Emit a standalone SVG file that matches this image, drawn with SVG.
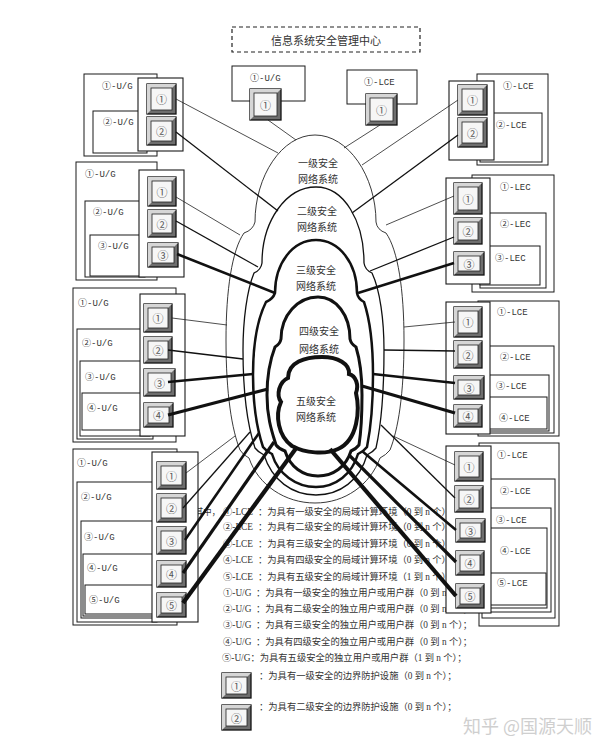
<svg xmlns="http://www.w3.org/2000/svg" width="616" height="753" viewBox="0 0 616 753">
<style>
.bg{fill:#fff}
.bx{fill:#fff;stroke:#1a1a1a;stroke-width:1}
.pn{fill:#fff;stroke:#1a1a1a;stroke-width:1.1}
.dash{fill:#fff;stroke:#222;stroke-width:1.2;stroke-dasharray:4 3}
.bo{fill:#6e6e6e;stroke:#111;stroke-width:1.3}
.bl{fill:#d6d6d6}
.bi{fill:#f6f6f6;stroke:#222;stroke-width:0.8}
.bt{font-family:"Noto Sans CJK SC",sans-serif;font-size:11px;fill:#555;text-anchor:middle;dominant-baseline:central}
.lb{font-family:"Liberation Mono","Noto Sans CJK SC",monospace;font-size:9px;fill:#333;dominant-baseline:central}
.ct{font-family:"Noto Sans CJK SC",sans-serif;font-size:10px;fill:#333;text-anchor:middle;dominant-baseline:central}
.tt{font-family:"Noto Sans CJK SC",sans-serif;font-size:11px;fill:#333;text-anchor:middle;dominant-baseline:central}
.lg{font-family:"Liberation Serif","Noto Sans CJK SC",serif;font-size:9.3px;fill:#333;dominant-baseline:central}
.wm{font-family:"Noto Sans CJK SC",sans-serif;font-size:18px;fill:#cfcfcf}
.c1{fill:none;stroke:#222;stroke-width:0.9}
.c2{fill:none;stroke:#111;stroke-width:1.3}
.c3{fill:none;stroke:#111;stroke-width:2.5}
.c4{fill:none;stroke:#111;stroke-width:3}
.c5{fill:none;stroke:#111;stroke-width:4}
.k1{stroke:#222;stroke-width:0.8;fill:none}
.k2{stroke:#111;stroke-width:1.3;fill:none}
.k3{stroke:#111;stroke-width:2.6;fill:none}
.k4{stroke:#111;stroke-width:3.2;fill:none}
.k5{stroke:#111;stroke-width:4.2;fill:none}
</style>
<rect class="bg" x="0" y="0" width="616" height="753"/>

<g id="legend">
<text class="lg" x="195" y="512" textLength="25" lengthAdjust="spacingAndGlyphs">其中，</text>
<text class="lg" y="512"><tspan x="223">①-LCE</tspan><tspan x="258">：为具有一级安全的局域计算环境（0 到 n 个）；</tspan></text>
<text class="lg" y="527"><tspan x="223">②-LCE</tspan><tspan x="258">：为具有二级安全的局域计算环境（0 到 n 个）；</tspan></text>
<text class="lg" y="544"><tspan x="223">③-LCE</tspan><tspan x="258">：为具有三级安全的局域计算环境（0 到 n 个）；</tspan></text>
<text class="lg" y="560"><tspan x="223">④-LCE</tspan><tspan x="258">：为具有四级安全的局域计算环境（0 到 n 个）；</tspan></text>
<text class="lg" y="577"><tspan x="223">⑤-LCE</tspan><tspan x="258">：为具有五级安全的局域计算环境（1 到 n 个）；</tspan></text>
<text class="lg" y="593"><tspan x="223">①-U/G</tspan><tspan x="256">：为具有一级安全的独立用户或用户群（0 到 n 个）；</tspan></text>
<text class="lg" y="609"><tspan x="223">②-U/G</tspan><tspan x="256">：为具有二级安全的独立用户或用户群（0 到 n 个）；</tspan></text>
<text class="lg" y="625"><tspan x="223">③-U/G</tspan><tspan x="256">：为具有三级安全的独立用户或用户群（0 到 n 个）；</tspan></text>
<text class="lg" y="642"><tspan x="223">④-U/G</tspan><tspan x="256">：为具有四级安全的独立用户或用户群（0 到 n 个）；</tspan></text>
<text class="lg" x="222" y="658">⑤-U/G：为具有五级安全的独立用户或用户群（1 到 n 个）；</text>
<g id="legend-btn1">
<rect class="bo" x="222" y="673" width="29" height="25"/><polygon class="bl" points="222,673 251,673 247,677 226,677 226,694 222,698"/><rect class="bi" x="226" y="677" width="21" height="17"/><text class="bt" x="236.5" y="685.5">①</text>
</g>
<text class="lg" x="259" y="676">：为具有一级安全的边界防护设施（0 到 n 个）；</text>
<g id="legend-btn2">
<rect class="bo" x="222" y="705" width="29" height="25"/><polygon class="bl" points="222,705 251,705 247,709 226,709 226,726 222,730"/><rect class="bi" x="226" y="709" width="21" height="17"/><text class="bt" x="236.5" y="717.5">②</text>
</g>
<text class="lg" x="259" y="707">：为具有二级安全的边界防护设施（0 到 n 个）；</text>
<text class="wm" x="463" y="733">知乎 @国源天顺</text>
</g>

<g id="center">
<rect class="dash" x="232" y="27" width="188" height="25"/>
<text class="tt" x="326" y="40">信息系统安全管理中心</text>
</g>

<g id="top-ug1">
<rect class="bx" x="232" y="66" width="73" height="35"/>
<text class="lb" x="250" y="79">①-U/G</text>
<rect class="bo" x="250" y="89" width="31" height="31"/><polygon class="bl" points="250,89 281,89 277,93 254,93 254,116 250,120"/><rect class="bi" x="254" y="93" width="23" height="23"/><text class="bt" x="265.5" y="104.5">①</text>
</g>

<g id="top-lce1">
<rect class="bx" x="347" y="70" width="70" height="34"/>
<text class="lb" x="364" y="83">①-LCE</text>
<rect class="bo" x="366" y="94" width="31" height="31"/><polygon class="bl" points="366,94 397,94 393,98 370,98 370,121 366,125"/><rect class="bi" x="370" y="98" width="23" height="23"/><text class="bt" x="381.5" y="109.5">①</text>
</g>

<g id="left-1">
<rect class="bx" x="84" y="74" width="73" height="82"/>
<rect class="bx" x="93" y="111" width="54" height="42"/>
<text class="lb" x="102" y="87">①-U/G</text>
<text class="lb" x="103" y="123">②-U/G</text>
<rect class="pn" x="138" y="78" width="45" height="73"/>
<rect class="bo" x="147" y="84" width="29" height="30"/><polygon class="bl" points="147,84 176,84 172,88 151,88 151,110 147,114"/><rect class="bi" x="151" y="88" width="21" height="22"/><text class="bt" x="161.5" y="99">①</text>
<rect class="bo" x="147" y="117" width="29" height="28"/><polygon class="bl" points="147,117 176,117 172,121 151,121 151,141 147,145"/><rect class="bi" x="151" y="121" width="21" height="20"/><text class="bt" x="161.5" y="131">②</text>
</g>

<g id="left-2">
<rect class="bx" x="76" y="162" width="81" height="118"/>
<rect class="bx" x="85" y="201" width="60" height="76"/>
<rect class="bx" x="90" y="235" width="55" height="41"/>
<text class="lb" x="85" y="175">①-U/G</text>
<text class="lb" x="93" y="213">②-U/G</text>
<text class="lb" x="98" y="247">③-U/G</text>
<rect class="pn" x="139" y="170" width="45" height="107"/>
<rect class="bo" x="148" y="177" width="28" height="29"/><polygon class="bl" points="148,177 176,177 172,181 152,181 152,202 148,206"/><rect class="bi" x="152" y="181" width="20" height="21"/><text class="bt" x="162" y="191.5">①</text>
<rect class="bo" x="148" y="210" width="28" height="27"/><polygon class="bl" points="148,210 176,210 172,214 152,214 152,233 148,237"/><rect class="bi" x="152" y="214" width="20" height="19"/><text class="bt" x="162" y="223.5">②</text>
<rect class="bo" x="148" y="243" width="30" height="24"/><polygon class="bl" points="148,243 178,243 174,247 152,247 152,263 148,267"/><rect class="bi" x="152" y="247" width="22" height="16"/><text class="bt" x="163" y="255">③</text>
</g>

<g id="left-3">
<rect class="bx" x="73" y="288" width="103" height="154"/>
<rect class="bx" x="77" y="329" width="76" height="110"/>
<rect class="bx" x="80" y="361" width="70" height="75"/>
<rect class="bx" x="82" y="393" width="60" height="37"/>
<text class="lb" x="78" y="304">①-U/G</text>
<text class="lb" x="82" y="344">②-U/G</text>
<text class="lb" x="85" y="378">③-U/G</text>
<text class="lb" x="87" y="409">④-U/G</text>
<rect class="pn" x="140" y="294" width="45" height="142"/>
<rect class="bo" x="144" y="304" width="28" height="28"/><polygon class="bl" points="144,304 172,304 168,308 148,308 148,328 144,332"/><rect class="bi" x="148" y="308" width="20" height="20"/><text class="bt" x="158" y="318">①</text>
<rect class="bo" x="144" y="337" width="28" height="26"/><polygon class="bl" points="144,337 172,337 168,341 148,341 148,359 144,363"/><rect class="bi" x="148" y="341" width="20" height="18"/><text class="bt" x="158" y="350">②</text>
<rect class="bo" x="144" y="369" width="31" height="27"/><polygon class="bl" points="144,369 175,369 171,373 148,373 148,392 144,396"/><rect class="bi" x="148" y="373" width="23" height="19"/><text class="bt" x="159.5" y="382.5">③</text>
<rect class="bo" x="144" y="403" width="29" height="24"/><polygon class="bl" points="144,403 173,403 169,407 148,407 148,423 144,427"/><rect class="bi" x="148" y="407" width="21" height="16"/><text class="bt" x="158.5" y="415">④</text>
</g>

<g id="left-4">
<rect class="bx" x="73" y="449" width="104" height="176"/>
<rect class="bx" x="77" y="482" width="80" height="140"/>
<rect class="bx" x="81" y="521" width="72" height="97"/>
<rect class="bx" x="83" y="554" width="70" height="62"/>
<rect class="bx" x="85" y="585" width="68" height="29"/>
<text class="lb" x="77" y="464">①-U/G</text>
<text class="lb" x="81" y="498">②-U/G</text>
<text class="lb" x="84" y="538">③-U/G</text>
<text class="lb" x="87" y="569">④-U/G</text>
<text class="lb" x="89" y="601">⑤-U/G</text>
<rect class="pn" x="152" y="452" width="46" height="170"/>
<rect class="bo" x="157" y="462" width="29" height="27"/><polygon class="bl" points="157,462 186,462 182,466 161,466 161,485 157,489"/><rect class="bi" x="161" y="466" width="21" height="19"/><text class="bt" x="171.5" y="475.5">①</text>
<rect class="bo" x="157" y="494" width="29" height="28"/><polygon class="bl" points="157,494 186,494 182,498 161,498 161,518 157,522"/><rect class="bi" x="161" y="498" width="21" height="20"/><text class="bt" x="171.5" y="508">②</text>
<rect class="bo" x="157" y="527" width="29" height="27"/><polygon class="bl" points="157,527 186,527 182,531 161,531 161,550 157,554"/><rect class="bi" x="161" y="531" width="21" height="19"/><text class="bt" x="171.5" y="540.5">③</text>
<rect class="bo" x="157" y="561" width="29" height="26"/><polygon class="bl" points="157,561 186,561 182,565 161,565 161,583 157,587"/><rect class="bi" x="161" y="565" width="21" height="18"/><text class="bt" x="171.5" y="574">④</text>
<rect class="bo" x="157" y="593" width="29" height="24"/><polygon class="bl" points="157,593 186,593 182,597 161,597 161,613 157,617"/><rect class="bi" x="161" y="597" width="21" height="16"/><text class="bt" x="171.5" y="605">⑤</text>
</g>

<g id="right-1">
<rect class="bx" x="477" y="74" width="71" height="91"/>
<rect class="bx" x="480" y="113" width="62" height="49"/>
<text class="lb" x="503" y="87">①-LCE</text>
<text class="lb" x="496" y="126">②-LCE</text>
<rect class="pn" x="449" y="81" width="45" height="79"/>
<rect class="bo" x="458" y="85" width="29" height="30"/><polygon class="bl" points="458,85 487,85 483,89 462,89 462,111 458,115"/><rect class="bi" x="462" y="89" width="21" height="22"/><text class="bt" x="472.5" y="100">①</text>
<rect class="bo" x="458" y="118" width="29" height="29"/><polygon class="bl" points="458,118 487,118 483,122 462,122 462,143 458,147"/><rect class="bi" x="462" y="122" width="21" height="21"/><text class="bt" x="472.5" y="132.5">②</text>
</g>

<g id="right-2">
<rect class="bx" x="472" y="175" width="82" height="117"/>
<rect class="bx" x="480" y="213" width="66" height="75"/>
<rect class="bx" x="480" y="246" width="60" height="39"/>
<text class="lb" x="500" y="188">①-LEC</text>
<text class="lb" x="500" y="225">②-LEC</text>
<text class="lb" x="495" y="259">③-LEC</text>
<rect class="pn" x="446" y="178" width="44" height="106"/>
<rect class="bo" x="454" y="183" width="28" height="31"/><polygon class="bl" points="454,183 482,183 478,187 458,187 458,210 454,214"/><rect class="bi" x="458" y="187" width="20" height="23"/><text class="bt" x="468" y="198.5">①</text>
<rect class="bo" x="454" y="218" width="28" height="26"/><polygon class="bl" points="454,218 482,218 478,222 458,222 458,240 454,244"/><rect class="bi" x="458" y="222" width="20" height="18"/><text class="bt" x="468" y="231">②</text>
<rect class="bo" x="454" y="252" width="30" height="23"/><polygon class="bl" points="454,252 484,252 480,256 458,256 458,271 454,275"/><rect class="bi" x="458" y="256" width="22" height="15"/><text class="bt" x="469" y="263.5">③</text>
</g>

<g id="right-3">
<rect class="bx" x="478" y="301" width="81" height="135"/>
<rect class="bx" x="482" y="346" width="72" height="87"/>
<rect class="bx" x="482" y="375" width="67" height="56"/>
<rect class="bx" x="482" y="397" width="65" height="32"/>
<text class="lb" x="497" y="313">①-LCE</text>
<text class="lb" x="500" y="358">②-LCE</text>
<text class="lb" x="496" y="387">③-LCE</text>
<text class="lb" x="499" y="419">④-LCE</text>
<rect class="pn" x="446" y="302" width="44" height="132"/>
<rect class="bo" x="454" y="307" width="28" height="30"/><polygon class="bl" points="454,307 482,307 478,311 458,311 458,333 454,337"/><rect class="bi" x="458" y="311" width="20" height="22"/><text class="bt" x="468" y="322">①</text>
<rect class="bo" x="454" y="341" width="28" height="27"/><polygon class="bl" points="454,341 482,341 478,345 458,345 458,364 454,368"/><rect class="bi" x="458" y="345" width="20" height="19"/><text class="bt" x="468" y="354.5">②</text>
<rect class="bo" x="454" y="376" width="30" height="23"/><polygon class="bl" points="454,376 484,376 480,380 458,380 458,395 454,399"/><rect class="bi" x="458" y="380" width="22" height="15"/><text class="bt" x="469" y="387.5">③</text>
<rect class="bo" x="454" y="405" width="28" height="22"/><polygon class="bl" points="454,405 482,405 478,409 458,409 458,423 454,427"/><rect class="bi" x="458" y="409" width="20" height="14"/><text class="bt" x="468" y="416">④</text>
</g>

<g id="right-4">
<rect class="bx" x="479" y="443" width="80" height="183"/>
<rect class="bx" x="482" y="479" width="73" height="139"/>
<rect class="bx" x="482" y="508" width="69" height="104"/>
<rect class="bx" x="482" y="528" width="65" height="80"/>
<rect class="bx" x="482" y="573" width="64" height="32"/>
<text class="lb" x="497" y="456">①-LCE</text>
<text class="lb" x="500" y="492">②-LCE</text>
<text class="lb" x="496" y="521">③-LCE</text>
<text class="lb" x="500" y="552">④-LCE</text>
<text class="lb" x="497" y="584">⑤-LCE</text>
<rect class="pn" x="446" y="446" width="45" height="167"/>
<rect class="bo" x="455" y="452" width="28" height="29"/><polygon class="bl" points="455,452 483,452 479,456 459,456 459,477 455,481"/><rect class="bi" x="459" y="456" width="20" height="21"/><text class="bt" x="469" y="466.5">①</text>
<rect class="bo" x="455" y="486" width="28" height="26"/><polygon class="bl" points="455,486 483,486 479,490 459,490 459,508 455,512"/><rect class="bi" x="459" y="490" width="20" height="18"/><text class="bt" x="469" y="499">②</text>
<rect class="bo" x="456" y="519" width="29" height="23"/><polygon class="bl" points="456,519 485,519 481,523 460,523 460,538 456,542"/><rect class="bi" x="460" y="523" width="21" height="15"/><text class="bt" x="470.5" y="530.5">③</text>
<rect class="bo" x="456" y="551" width="28" height="24"/><polygon class="bl" points="456,551 484,551 480,555 460,555 460,571 456,575"/><rect class="bi" x="460" y="555" width="20" height="16"/><text class="bt" x="470" y="563">④</text>
<rect class="bo" x="456" y="584" width="28" height="24"/><polygon class="bl" points="456,584 484,584 480,588 460,588 460,604 456,608"/><rect class="bi" x="460" y="588" width="20" height="16"/><text class="bt" x="470" y="596">⑤</text>
</g>

<g id="net-1">
<path class="c1" d="M 255 222 C 255 176 282 135 315 135 C 348 135 376 176 376 222 Q 377 230 386 233 C 398 250 404 290 404 340 C 404 395 398 430 390 450 Q 386 455 380 458 C 370 485 345 503 315 503 C 285 503 258 485 249 458 Q 243 455 240 450 C 232 430 226 395 226 340 C 226 290 232 250 244 233 Q 253 230 255 222 Z"/>
<text class="ct" x="318" y="162">一级安全</text>
<text class="ct" x="318" y="178">网络系统</text>
</g>
<g id="net-2">
<path class="c2" d="M 262 263 C 262 221 286 187 316 187 C 344 187 364 221 364 263 Q 365 270 372 273 C 380 290 384 320 384 350 C 384 400 380 430 376 448 Q 373 452 367 455 C 360 480 340 495 316 495 C 292 495 272 480 264 455 Q 258 452 255 448 C 249 430 243 400 243 350 C 243 320 247 290 254 273 Q 261 270 262 263 Z"/>
<text class="ct" x="317" y="210">二级安全</text>
<text class="ct" x="317" y="226">网络系统</text>
</g>
<g id="net-3">
<path class="c3" d="M 275 293 C 275 263 293 240 316 240 C 339 240 357 263 357 293 Q 358 299 364 302 C 370 320 373 345 373 375 C 373 410 370 432 367 447 Q 364 451 358 454 C 352 474 336 487 316 487 C 296 487 278 474 272 454 Q 266 451 263 447 C 258 432 253 410 253 375 C 253 345 257 320 266 302 Q 273 299 275 293 Z"/>
<text class="ct" x="316" y="269">三级安全</text>
<text class="ct" x="316" y="285">网络系统</text>
</g>
<g id="net-4">
<path class="c4" d="M 281 339 C 281 315 298 297 318 297 C 336 297 350 315 350 339 Q 351 344 356 347 C 360 360 362 378 362 395 C 362 418 361 432 359 445 Q 356 449 351 451 C 346 467 333 476 318 476 C 303 476 290 467 285 451 Q 279 449 276 445 C 272 432 267 418 267 395 C 267 378 270 360 275 347 Q 280 344 281 339 Z"/>
<text class="ct" x="319" y="330">四级安全</text>
<text class="ct" x="319" y="348">网络系统</text>
</g>
<g id="net-5">
<path class="c5" d="M 288 378 C 288 362 305 357 322 357 C 338 357 350 364 349 374 C 356 376 359 385 356 393 C 360 410 358 440 338 449 C 325 455 305 453 292 446 C 278 436 275 415 281 402 C 276 395 279 382 288 378 Z"/>
<text class="ct" x="316" y="400">五级安全</text>
<text class="ct" x="316" y="416">网络系统</text>
</g>

<g id="connectors">
<line class="k1" x1="268" y1="120" x2="296" y2="140"/>
<line class="k1" x1="380" y1="125" x2="344" y2="148"/>
<line class="k1" x1="176" y1="99" x2="278" y2="153"/>
<line class="k2" x1="176" y1="132" x2="278" y2="211"/>
<line class="k1" x1="458" y1="100" x2="362" y2="165"/>
<line class="k2" x1="458" y1="135" x2="352" y2="213"/>
<line class="k1" x1="176" y1="197" x2="240" y2="235"/>
<line class="k2" x1="176" y1="221" x2="258" y2="267"/>
<line class="k3" x1="177" y1="254" x2="275" y2="293"/>
<line class="k1" x1="454" y1="196" x2="386" y2="225"/>
<line class="k2" x1="454" y1="237" x2="370" y2="271"/>
<line class="k3" x1="454" y1="263" x2="358" y2="293"/>
<line class="k1" x1="172" y1="318" x2="227" y2="325"/>
<line class="k2" x1="168" y1="350" x2="243" y2="359"/>
<line class="k3" x1="168" y1="382" x2="253" y2="374"/>
<line class="k4" x1="168" y1="415" x2="268" y2="389"/>
<line class="k1" x1="455" y1="322" x2="404" y2="327"/>
<line class="k2" x1="455" y1="351" x2="384" y2="350"/>
<line class="k3" x1="455" y1="383" x2="373" y2="374"/>
<line class="k4" x1="455" y1="413" x2="362" y2="386"/>
<line class="k1" x1="186" y1="473" x2="235" y2="436"/>
<line class="k2" x1="183" y1="508" x2="250" y2="432"/>
<line class="k3" x1="185" y1="540" x2="259" y2="433"/>
<line class="k4" x1="183" y1="573" x2="274" y2="442"/>
<line class="k5" x1="183" y1="603" x2="297" y2="447"/>
<line class="k1" x1="455" y1="465" x2="393" y2="436"/>
<line class="k2" x1="455" y1="498" x2="381" y2="425"/>
<line class="k3" x1="456" y1="530" x2="362" y2="451"/>
<line class="k4" x1="456" y1="562" x2="349" y2="455"/>
<line class="k5" x1="456" y1="596" x2="330" y2="449"/>
</g>
</svg>
